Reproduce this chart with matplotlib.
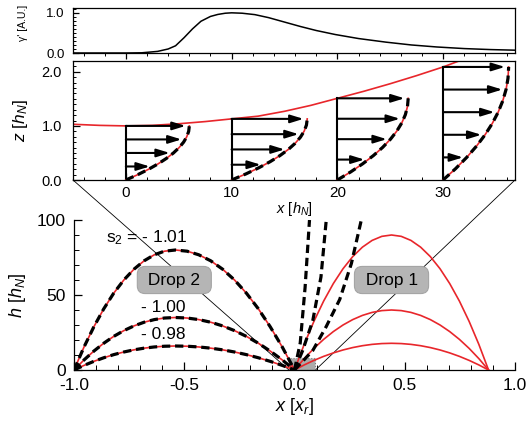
import numpy as np
import matplotlib
matplotlib.use("Agg")
import matplotlib.pyplot as plt
from matplotlib.patches import Rectangle, ConnectionPatch
from matplotlib.ticker import MultipleLocator, FormatStrFormatter

plt.rcParams['font.family'] = 'Liberation Sans'
plt.rcParams['mathtext.fontset'] = 'custom'
plt.rcParams['mathtext.rm'] = 'Liberation Sans'
plt.rcParams['mathtext.it'] = 'Liberation Sans:italic'
plt.rcParams['axes.unicode_minus'] = False

RED = '#e8262b'

# top panel: gamma' along the film
gam_x = [-5, 0, 1.5, 3, 4, 4.7, 5.5, 6.3, 7.1, 8, 8.7, 9.4, 10, 11, 12.2,
         13.5, 15, 16.5, 18, 19.8, 22, 24.6, 27, 29.4, 32, 34.5, 36.8]
gam_y = [0, 0, 0.005, 0.04, 0.1, 0.18, 0.38, 0.6, 0.79, 0.91, 0.96, 0.99, 1.0,
         0.99, 0.955, 0.88, 0.77, 0.66, 0.56, 0.46, 0.36, 0.27, 0.2, 0.15,
         0.11, 0.085, 0.07]

# middle panel: free surface
surf_x = [-5, -2.5, 0, 2.5, 5, 7.5, 10, 12.5, 15, 17.5, 20, 22.5, 25, 27.5, 30, 31.5, 33]
surf_z = [1.03, 1.01, 1.0, 1.01, 1.04, 1.08, 1.13, 1.18, 1.27, 1.38, 1.51, 1.64,
          1.78, 1.93, 2.09, 2.2, 2.32]

# velocity profiles
prof_x0 = [0, 10, 20, 30]
prof_h = [1.0, 1.13, 1.51, 2.09]
prof_us = [6.0, 7.15, 6.7, 6.2]
prof_arrows = [[0.25, 0.5, 0.75, 1.0], [0.25, 0.5, 0.75, 1.0],
               [0.25, 0.5, 0.75, 1.0], [0.2, 0.4, 0.6, 0.8, 1.0]]
# profile shape (z/h -> u/u_s)
shape_z = [0, 0.1, 0.2, 0.3, 0.4, 0.5, 0.6, 0.7, 0.8, 0.9, 1.0]
shape_u = [0, 0.19, 0.36, 0.51, 0.64, 0.75, 0.84, 0.91, 0.96, 0.99, 1.0]

# bottom panel: drop trajectories (shape x/L -> h/h_max)
arc_f = [0, 0.19, 0.36, 0.51, 0.64, 0.75, 0.84, 0.91, 0.96, 0.99, 1.0,
         0.99, 0.96, 0.91, 0.84, 0.75, 0.64, 0.51, 0.36, 0.19, 0]
arc1_xi = [0, 0.05, 0.1, 0.15, 0.2, 0.25, 0.3, 0.35, 0.4, 0.45, 0.5,
           0.55, 0.6, 0.65, 0.7, 0.75, 0.8, 0.85, 0.9, 0.95, 1.0]
arc2_xi = [0, 0.045, 0.09, 0.135, 0.18, 0.226, 0.272, 0.318, 0.364, 0.41, 0.46,
           0.513, 0.566, 0.62, 0.674, 0.728, 0.782, 0.836, 0.89, 0.945, 1.0]
drop2_start, drop2_len = -1.0, 1.0
drop2_peaks = [80, 35, 16]
drop2_labels = ['s$_2$ = - 1.01', '- 1.00', '- 0.98']
drop2_lab_x = [-0.67, -0.595, -0.595]
drop2_lab_y = [88, 42, 23.5]
drop1_start, drop1_len = 0.0, 0.88
drop1_peaks = [90, 40, 17.8]

jet1_x = [0, 0.026, 0.048, 0.068]
jet1_h = [0, 18, 55, 100]
jet2_x = [0, 0.037, 0.083, 0.12, 0.144]
jet2_h = [0, 13, 33, 62, 100]
jet3_x = [0, 0.083, 0.144, 0.205, 0.258, 0.303]
jet3_h = [0, 13, 29, 47, 71, 100]

W, H = 529, 425
fig = plt.figure(figsize=(W / 100, H / 100), dpi=100)


def box(l, t, r, b):
    return [l / W, 1 - b / H, (r - l) / W, (b - t) / H]


ax_top = fig.add_axes(box(73, 8, 515, 53))
ax_mid = fig.add_axes(box(73, 61, 515, 180))
ax_bot = fig.add_axes(box(74, 220, 515, 370))

# ---- top panel
ax_top.plot(gam_x, gam_y, color='k', lw=1.1)
ax_top.set_xlim(-5, 36.8)
ax_top.set_ylim(0, 1.12)
ax_top.set_yticks([0, 1])
ax_top.yaxis.set_major_formatter(FormatStrFormatter('%.1f'))
ax_top.yaxis.set_minor_locator(MultipleLocator(0.1))
ax_top.xaxis.set_major_locator(MultipleLocator(10))
ax_top.xaxis.set_minor_locator(MultipleLocator(2))
ax_top.tick_params(axis='x', which='both', direction='out', labelbottom=False)
ax_top.tick_params(axis='x', which='major', length=4, width=0.9)
ax_top.tick_params(axis='x', which='minor', length=2, width=0.7)
ax_top.tick_params(axis='y', which='both', direction='in', labelsize=9.5, pad=6)
ax_top.tick_params(axis='y', which='major', length=4, width=0.9)
ax_top.tick_params(axis='y', which='minor', length=2, width=0.7)
ax_top.set_ylabel("γ' [A.U.]", fontsize=7.5)
ax_top.yaxis.set_label_coords(-0.102, 0.68)

# ---- middle panel
ax_mid.plot(surf_x, surf_z, color=RED, lw=1.2)
for x0, h, us, fr in zip(prof_x0, prof_h, prof_us, prof_arrows):
    px = [x0 + us * u for u in shape_u]
    pz = [h * z for z in shape_z]
    ax_mid.plot([x0, x0], [0, h], color='k', lw=1.5)
    for f in fr:
        u = np.interp(f, shape_z, shape_u) * us
        ax_mid.annotate('', xy=(x0 + u - 0.35, f * h), xytext=(x0, f * h),
                        arrowprops=dict(arrowstyle='-|>,head_length=0.65,head_width=0.2',
                                        lw=1.5, color='k', mutation_scale=12,
                                        shrinkA=0, shrinkB=0))
    ax_mid.plot(px, pz, color=RED, lw=1.2)
    ax_mid.plot(px, pz, color='k', lw=2.3, dashes=(2.6, 1.5))
ax_mid.set_xlim(-5, 36.8)
ax_mid.set_ylim(0, 2.2)
ax_mid.set_yticks([0, 1, 2])
ax_mid.yaxis.set_major_formatter(FormatStrFormatter('%.1f'))
ax_mid.yaxis.set_minor_locator(MultipleLocator(0.1))
ax_mid.set_xticks([0, 10, 20, 30])
ax_mid.xaxis.set_minor_locator(MultipleLocator(2))
ax_mid.tick_params(which='both', direction='in')
ax_mid.tick_params(which='major', length=5, width=0.9)
ax_mid.tick_params(which='minor', length=2.5, width=0.7)
ax_mid.tick_params(axis='y', labelsize=10.5, pad=8)
ax_mid.tick_params(axis='x', labelsize=11, pad=4)
ax_mid.set_xlabel(r'$x$ [$h_N$]', fontsize=10.5, labelpad=0)
ax_mid.set_ylabel(r'$z$ [$h_N$]', fontsize=12.5)
ax_mid.yaxis.set_label_coords(-0.098, 0.5)

# ---- bottom panel
for pk in drop2_peaks:
    xs = [drop2_start + drop2_len * t for t in arc2_xi]
    hs = [pk * f for f in arc_f]
    ax_bot.plot(xs, hs, color=RED, lw=1.2, zorder=3)
    ax_bot.plot(xs, hs, color='k', lw=2.3, dashes=(2.6, 1.5), zorder=4)
for pk in drop1_peaks:
    xs = [drop1_start + drop1_len * t for t in arc1_xi]
    hs = [pk * f for f in arc_f]
    ax_bot.plot(xs, hs, color=RED, lw=1.2, zorder=3)
for jx, jh in [(jet1_x, jet1_h), (jet2_x, jet2_h), (jet3_x, jet3_h)]:
    ax_bot.plot(jx, jh, color='k', lw=2.3, dashes=(2.6, 1.5), zorder=4)

for lab, lx, ly in zip(drop2_labels, drop2_lab_x, drop2_lab_y):
    ax_bot.text(lx, ly, lab, fontsize=12.5, ha='center', va='center', zorder=5)

bstyle = dict(boxstyle='round,pad=0.35,rounding_size=0.45', fc='#b5b5b5', ec='#a5a5a5', lw=0.8)
ax_bot.text(-0.545, 60, ' Drop 2 ', fontsize=12.5, ha='center', va='center', bbox=bstyle, zorder=6)
ax_bot.text(0.44, 60, ' Drop 1 ', fontsize=12.5, ha='center', va='center', bbox=bstyle, zorder=6)

ax_bot.add_patch(Rectangle((-0.025, 0), 0.12, 8, fc='#9c9c9c', ec='#707070',
                           lw=0.8, ls=':', alpha=0.85, zorder=2))

for xa, xb in [(0, -0.025), (1, 0.095)]:
    con = ConnectionPatch(xyA=(xa, 0), coordsA=ax_mid.transAxes,
                          xyB=(xb, 0), coordsB=ax_bot.transData,
                          color='k', lw=0.6, zorder=1)
    con.set_clip_on(False)
    ax_bot.add_artist(con)

ax_bot.set_xlim(-1, 1)
ax_bot.set_ylim(0, 100)
ax_bot.spines['top'].set_visible(False)
ax_bot.spines['right'].set_visible(False)
ax_bot.set_xticks([-1, -0.5, 0, 0.5, 1])
ax_bot.xaxis.set_major_formatter(FormatStrFormatter('%.1f'))
ax_bot.xaxis.set_minor_locator(MultipleLocator(0.1))
ax_bot.set_yticks([0, 50, 100])
ax_bot.yaxis.set_minor_locator(MultipleLocator(10))
ax_bot.tick_params(which='both', direction='in', labelsize=12.5, pad=6)
ax_bot.tick_params(which='major', length=6, width=0.9)
ax_bot.tick_params(which='minor', length=3.5, width=0.7)
ax_bot.set_xlabel(r'$x$ [$x_r$]', fontsize=13, labelpad=2)
ax_bot.set_ylabel(r'$h$ [$h_N$]', fontsize=13)
ax_bot.yaxis.set_label_coords(-0.104, 0.5)

for a in (ax_top, ax_mid, ax_bot):
    for s in a.spines.values():
        s.set_linewidth(0.9)

fig.savefig('out.png', dpi=100)
